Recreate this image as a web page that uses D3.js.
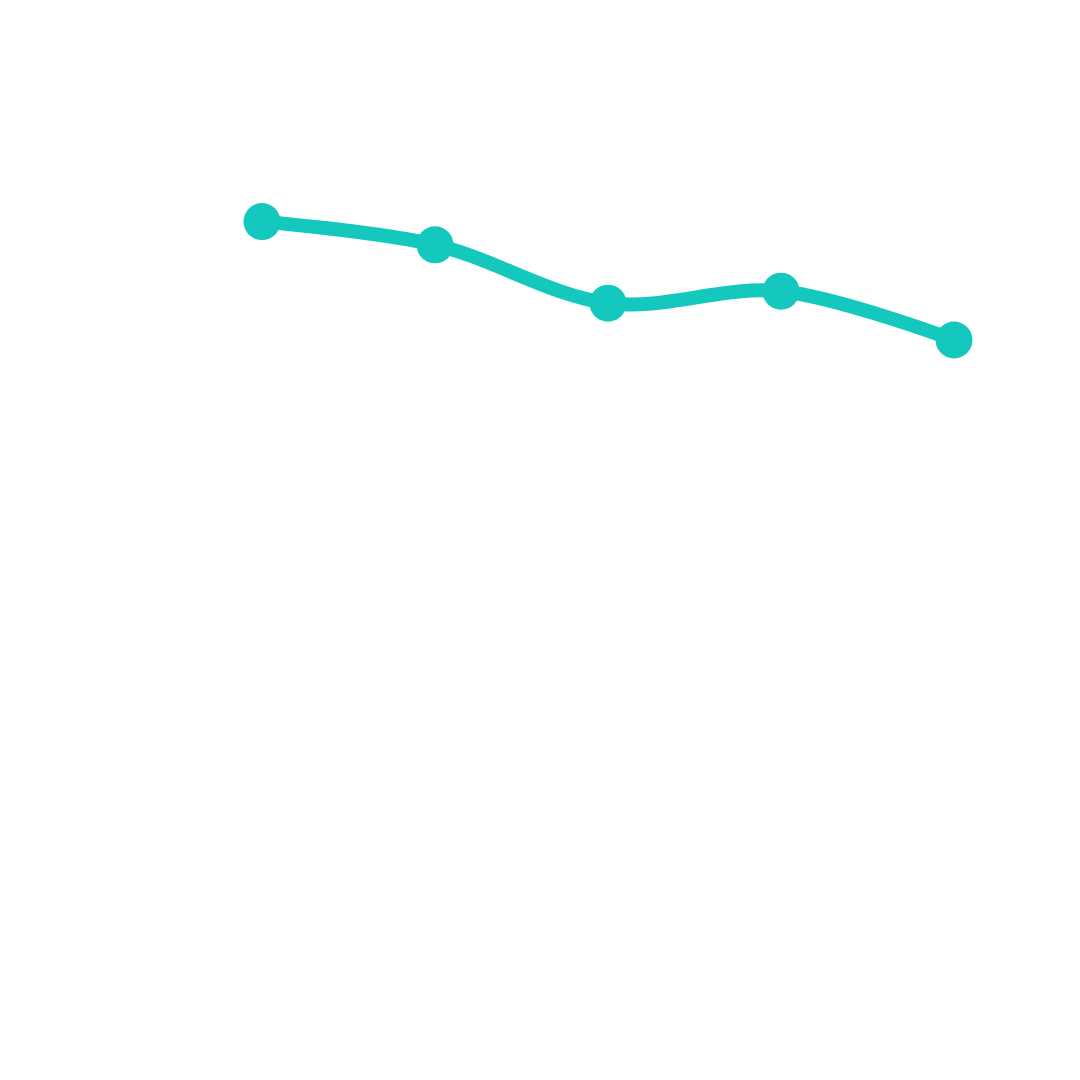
<!DOCTYPE html>
<html>
<head>
<meta charset="utf-8">
<script src="https://cdn.jsdelivr.net/npm/d3@7"></script>
<style>
  html, body { margin: 0; padding: 0; background: #ffffff; }
  svg { display: block; }
</style>
</head>
<body>
<div id="chart"></div>
<script>
// data
const categories = ["1", "2", "3", "4", "5"];
const values = [89.8, 86.9, 79.6, 81.1, 75.0];

const width = 1080;
const height = 1080;
const lineColor = "#15c8be";

const svg = d3.select("#chart").append("svg")
    .attr("width", width)
    .attr("height", height);

const x = d3.scalePoint()
    .domain(categories)
    .range([262, 954]);

const y = d3.scaleLinear()
    .domain([0, 100])
    .range([940, 140]);

const points = categories.map((c, i) => ({ cat: c, value: values[i] }));

const line = d3.line()
    .x(d => x(d.cat))
    .y(d => y(d.value))
    .curve(d3.curveCatmullRom);

svg.append("path")
    .datum(points)
    .attr("fill", "none")
    .attr("stroke", lineColor)
    .attr("stroke-width", 14)
    .attr("stroke-linecap", "round")
    .attr("d", line);

svg.append("g")
    .selectAll("circle")
    .data(points)
    .join("circle")
    .attr("cx", d => x(d.cat))
    .attr("cy", d => y(d.value))
    .attr("r", 18.5)
    .attr("fill", lineColor);
</script>
</body>
</html>
